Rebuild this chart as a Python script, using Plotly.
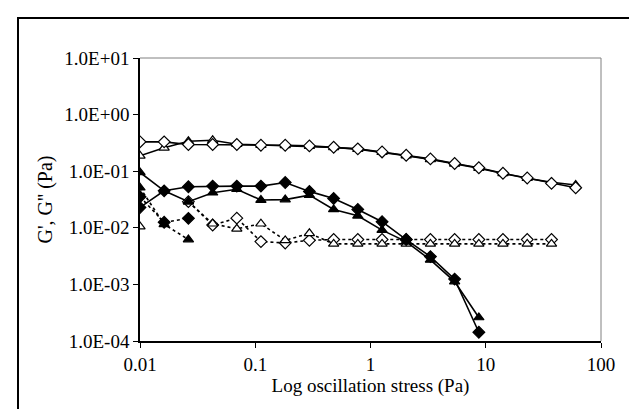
import plotly.graph_objects as go

# Oscillation stress (Pa)
stress = [0.01, 0.0162, 0.0263, 0.0427, 0.0692, 0.112, 0.182, 0.295, 0.479, 0.776,
          1.26, 2.04, 3.31, 5.37, 8.71, 14.1, 22.9, 37.2, 60.3]

# Solid lines (G')
open_dia_solid = [0.330, 0.330, 0.296, 0.296, 0.296, 0.288, 0.288, 0.280, 0.265, 0.248,
                  0.219, 0.191, 0.165, 0.137, 0.115, 0.092, 0.076, 0.061, 0.051]
open_tri_solid = [0.187, 0.259, 0.338, 0.352, 0.300, 0.290, 0.286, 0.276, 0.262, 0.245,
                  0.216, 0.188, 0.162, 0.135, 0.113, 0.091, 0.075, 0.064, 0.057]
fill_dia_solid = [0.0229, 0.045, 0.053, 0.0545, 0.0545, 0.0545, 0.063, 0.044, 0.033, 0.0211,
                  0.0128, 0.0062, 0.0031, 0.00124, 0.000143]
fill_tri_solid = [0.095, 0.045, 0.029, 0.0416, 0.048, 0.0309, 0.0315, 0.0377, 0.0211, 0.0163,
                  0.0091, 0.0057, 0.0027, 0.00112, 0.00026]

# Dotted lines (G'')
fill_dia_dot = [0.0353, 0.0125, 0.0147]
fill_tri_dot = [0.051, 0.0115, 0.0062]
open_dia_dot = [None, None, 0.029, 0.0112, 0.0148, 0.0057, 0.0054, 0.0060, 0.0062, 0.0062,
                0.0062, 0.0062, 0.0062, 0.0062, 0.0062, 0.0062, 0.0062, 0.0062]
open_tri_dot = [0.0105, None, 0.029, 0.0118, 0.0096, 0.0118, 0.0060, 0.0080, 0.0052, 0.0052,
                0.0052, 0.0052, 0.0052, 0.0052, 0.0052, 0.0052, 0.0052, 0.0052]

y_ticks = [10, 1, 0.1, 0.01, 0.001, 0.0001]
y_ticktext = ["1.0E+01", "1.0E+00", "1.0E-01", "1.0E-02", "1.0E-03", "1.0E-04"]
x_ticks = [0.01, 0.1, 1, 10, 100]
x_ticktext = ["0.01", "0.1", "1", "10", "100"]

FONT = "Liberation Serif, Times New Roman, serif"

fig = go.Figure()

def add(y, symbol, fill, dash):
    fig.add_trace(go.Scatter(
        x=stress[:len(y)], y=y, mode="lines+markers",
        line=dict(color="black", width=1.6 if dash == "solid" else 1.6, dash=dash),
        marker=dict(symbol=symbol, size=9,
                    color=fill, line=dict(color="black", width=1.2)),
        showlegend=False, hoverinfo="skip"))

add(open_dia_dot, "diamond", "white", "dot")
add(open_tri_dot, "triangle-up", "white", "dot")
add(fill_dia_dot, "diamond", "black", "dot")
add(fill_tri_dot, "triangle-up", "black", "dot")
add(fill_dia_solid, "diamond", "black", "solid")
add(fill_tri_solid, "triangle-up", "black", "solid")
add(open_tri_solid, "triangle-up", "white", "solid")
add(open_dia_solid, "diamond", "white", "solid")

L, R, T, B = 132, 593, 50, 333
W, H = 637, 409

def px(xp):
    return (xp - L) / (R - L)

def py(yp):
    return (B - yp) / (B - T)

fig.update_layout(
    width=W, height=H,
    margin=dict(l=L, r=W - R, t=T, b=H - B, pad=0),
    paper_bgcolor="white", plot_bgcolor="white",
    font=dict(family=FONT, size=19, color="black"),
    xaxis=dict(type="log", range=[-2, 2], tickvals=x_ticks, ticktext=x_ticktext,
               showgrid=False, zeroline=False, showline=True, linecolor="black",
               linewidth=1.5, ticks="outside", ticklen=5, tickwidth=1, tickcolor="black",
               tickfont=dict(family=FONT, size=19),
               title=dict(text="Log oscillation stress (Pa)", font=dict(family=FONT, size=19),
                          standoff=4)),
    yaxis=dict(type="log", range=[-4, 1], tickvals=y_ticks, ticktext=y_ticktext,
               showgrid=False, zeroline=False, showline=True, linecolor="black",
               linewidth=1.5, ticks="outside", ticklen=5, tickwidth=1, tickcolor="black",
               tickfont=dict(family=FONT, size=19),
               title=dict(text="G', G'' (Pa)", font=dict(family=FONT, size=20),
                          standoff=6)),
    shapes=[
        dict(type="line", xref="paper", yref="paper", x0=0, x1=1, y0=1, y1=1,
             line=dict(color="#808080", width=1)),
        dict(type="line", xref="paper", yref="paper", x0=1, x1=1, y0=0, y1=1,
             line=dict(color="#808080", width=1)),
        dict(type="rect", xref="paper", yref="paper", x0=px(10), x1=px(629),
             y0=py(420), y1=py(10), line=dict(color="black", width=2)),
    ],
)

fig.write_html("out.html")
